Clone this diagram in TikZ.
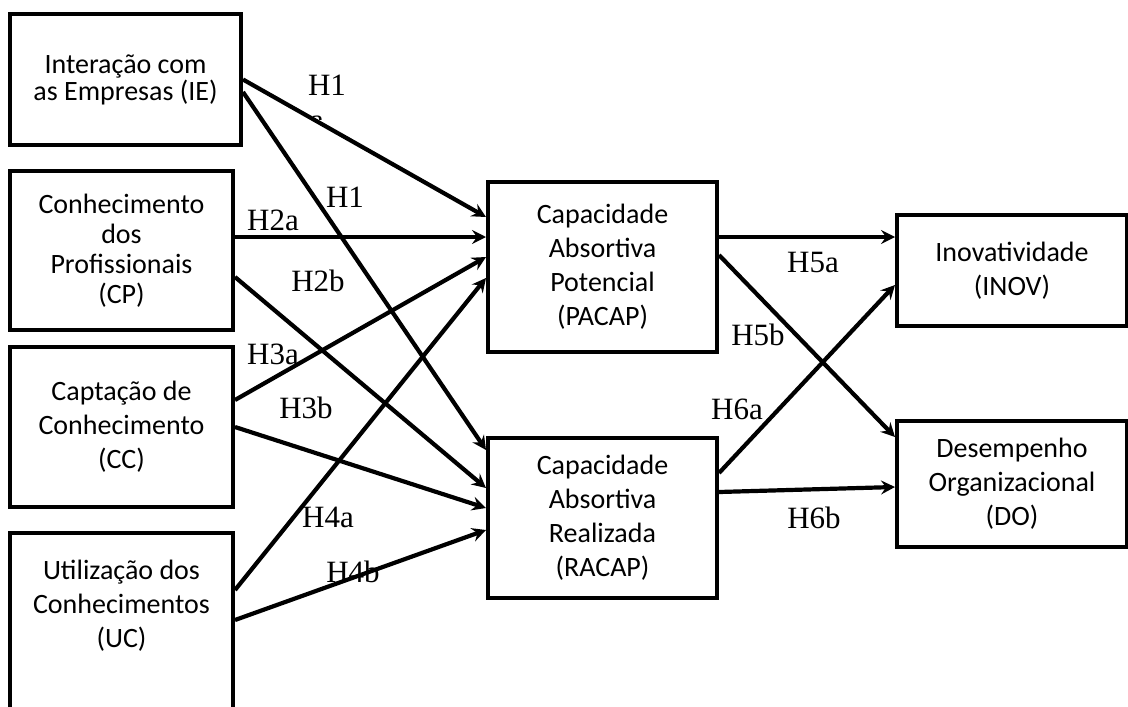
\documentclass[tikz,border=0pt]{standalone}
\usepackage{fontspec}
\setmainfont{Carlito}
\newfontfamily\labfont{Liberation Serif}
\usetikzlibrary{arrows.meta}
\begin{document}
\begin{tikzpicture}[x=0.5pt,y=-0.5pt,
  box/.style={draw,line width=2pt,rectangle,inner sep=0pt,align=center,font=\fontsize{14}{17}\selectfont},
  boxtext/.style={align=center,inner sep=0pt,font=\fontsize{14}{17}\selectfont},
  conn/.style={line width=2.1pt,-{Stealth[length=7pt,width=7pt,inset=2.5pt]}},
  lab/.style={font=\labfont\fontsize{15.5}{18}\selectfont,inner sep=0pt}]
\useasboundingbox (0,0) rectangle (1128,706);
\clip (0,0) rectangle (1128,706);
\fill[white] (0,0) rectangle (1128,706);

% boxes
\node[box,minimum width=115.5pt,minimum height=65.5pt,font=\fontsize{14}{13.5}\selectfont] (ie) at (125.5,79.5) {Interação com\\as Empresas (IE)};
\node[box,minimum width=111.5pt,minimum height=79.5pt,font=\fontsize{14}{15}\selectfont] (cp) at (121.5,250.5) {Conhecimento\\dos\\Profissionais\\(CP)};
\node[box,minimum width=111.5pt,minimum height=80pt] (cc) at (121.5,427) {Captação de\\Conhecimento\\(CC)};
\node[box,minimum width=111.5pt,minimum height=113.5pt] (uc) at (121.5,646.5) {};
\node[boxtext] (uctext) at (121.5,606) {Utilização dos\\Conhecimentos\\(UC)};
\node[box,minimum width=114.5pt,minimum height=85pt] (pacap) at (602.5,267) {Capacidade\\Absortiva\\Potencial\\(PACAP)};
\node[box,minimum width=114.5pt,minimum height=80pt] (racap) at (602.5,518) {Capacidade\\Absortiva\\Realizada\\(RACAP)};
\node[box,minimum width=115pt,minimum height=55.5pt] (inov) at (1012,270.5) {Inovatividade\\(INOV)};
\node[box,minimum width=115pt,minimum height=63pt] (do) at (1012,484) {Desempenho\\Organizacional\\(DO)};

% connectors
\draw[conn] (ie.east) -- ([yshift=25pt]pacap.west);
\draw[conn] ([yshift=-6.25pt]ie.east) -- ([yshift=34pt]racap.west);
\draw[conn] ([yshift=6.75pt]cp.east) -- ([yshift=15pt]pacap.west);
\draw[conn] ([yshift=-13.25pt]cp.east) -- ([yshift=15pt]racap.west);
\draw[conn] ([yshift=13.5pt]cc.east) -- ([yshift=5pt]pacap.west);
\draw[conn] (cc.east) -- ([yshift=5pt]racap.west);
\draw[conn] ([yshift=28.25pt]uc.east) -- ([yshift=-5.5pt]pacap.west);
\draw[conn] ([yshift=13.25pt]uc.east) -- ([yshift=-6pt]racap.west);
\draw[conn] ([yshift=15pt]pacap.east) -- ([yshift=16.75pt]inov.west);
\draw[conn] ([yshift=6pt]pacap.east) -- ([yshift=23.5pt]do.west);
\draw[conn] ([yshift=22.5pt]racap.east) -- ([yshift=-7.25pt]inov.west);
\draw[conn] ([yshift=13pt]racap.east) -- ([yshift=-1.5pt]do.west);

% labels
\node[lab] (h1a) at (327,85) {H1};
\begin{scope}
\clip (300,100) rectangle (340,119);
\node[lab] (h1acut) at (317,123) {a};
\end{scope}
\node[lab] (h1b) at (345,197) {H1};
\node[lab] (h2a) at (273,220) {H2a};
\node[lab] (h2b) at (318,281) {H2b};
\node[lab] (h3a) at (273,354) {H3a};
\node[lab] (h3b) at (306,408) {H3b};
\node[lab] (h4a) at (328,517) {H4a};
\node[lab] (h4b) at (353,572) {H4b};
\node[lab] (h5a) at (813,262) {H5a};
\node[lab] (h5b) at (758,335) {H5b};
\node[lab] (h6a) at (737,409) {H6a};
\node[lab] (h6b) at (814,518) {H6b};
\end{tikzpicture}
\end{document}
